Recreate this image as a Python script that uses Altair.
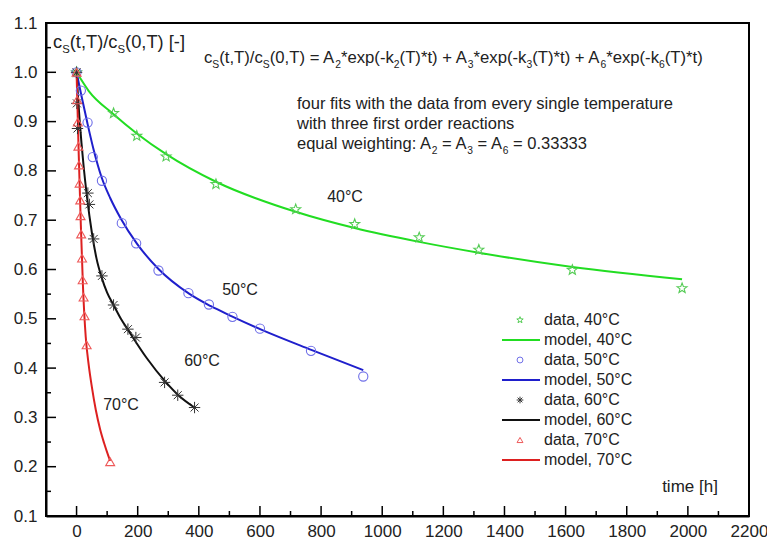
import math
import altair as alt
import pandas as pd

FONT = "Liberation Sans"

# ---- measured data: time [h] vs. normalized concentration c_S(t,T)/c_S(0,T)
t40 = [0, 121, 197, 293, 456, 717, 910, 1121, 1316, 1622, 1981]
c40 = [1.0, 0.917, 0.871, 0.829, 0.773, 0.722, 0.692, 0.665, 0.640, 0.599, 0.562]

t50 = [0, 14, 36, 53, 83, 148, 195, 268, 366, 433, 510, 600, 767, 938]
c50 = [1.0, 0.963, 0.898, 0.828, 0.780, 0.694, 0.653, 0.598, 0.552, 0.529, 0.504, 0.480, 0.435, 0.383]

t60 = [0, 1, 3, 37, 42, 56, 83, 121, 168, 194, 288, 331, 386]
c60 = [1.0, 0.937, 0.886, 0.755, 0.732, 0.662, 0.587, 0.528, 0.479, 0.462, 0.371, 0.345, 0.320]

t70 = [0, 2, 4, 6, 8, 10, 12, 13, 15, 18, 20, 23, 26, 33, 110]
c70 = [1.0, 0.944, 0.899, 0.85, 0.812, 0.775, 0.741, 0.709, 0.672, 0.623, 0.579, 0.544, 0.506, 0.447, 0.21]

# ---- fitted model curves (three first-order reactions)
mt40 = [0, 40, 121, 197, 293, 456, 717, 910, 1121, 1316, 1622, 1981]
mc40 = [1.0, 0.962, 0.915, 0.876, 0.834, 0.778, 0.717, 0.684, 0.656, 0.634, 0.605, 0.580]

mt50 = [0, 15, 35, 55, 83, 110, 145, 198, 268, 368, 438, 508, 608, 768, 938]
mc50 = [1.0, 0.955, 0.898, 0.845, 0.785, 0.745, 0.703, 0.652, 0.601, 0.551, 0.526, 0.505, 0.477, 0.437, 0.396]

mt60 = [0, 5, 10, 16, 23, 34, 50, 65, 83, 100, 121, 145, 170, 230, 290, 333, 386]
mc60 = [1.0, 0.948, 0.903, 0.857, 0.81, 0.748, 0.675, 0.623, 0.582, 0.553, 0.528, 0.50, 0.476, 0.42, 0.373, 0.345, 0.32]

mt70 = [0, 7, 14, 21, 30, 40, 50, 63, 77, 90, 104, 110]
mc70 = [1.0, 0.835, 0.69, 0.565, 0.463, 0.405, 0.362, 0.315, 0.276, 0.248, 0.222, 0.212]

# ---- axis ticks
x_major = [0, 200, 400, 600, 800, 1000, 1200, 1400, 1600, 1800, 2000, 2200]
x_minor = [100, 300, 500, 700, 900, 1100, 1300, 1500, 1700, 1900, 2100]
y_major = [0.1, 0.2, 0.3, 0.4, 0.5, 0.6, 0.7, 0.8, 0.9, 1.0, 1.1]
y_minor = [0.15, 0.25, 0.35, 0.45, 0.55, 0.65, 0.75, 0.85, 0.95, 1.05]

legend_labels = ["data, 40°C", "model, 40°C", "data, 50°C", "model, 50°C",
                 "data, 60°C", "model, 60°C", "data, 70°C", "model, 70°C"]

W, H = 703, 493
XS = alt.Scale(domain=[-100, 2200], nice=False, zero=False)
YS = alt.Scale(domain=[0.1, 1.1], nice=False, zero=False)


def star_path(inner=0.42):
    pts = []
    for k in range(10):
        r = 1.0 if k % 2 == 0 else inner
        a = math.radians(-90 + 36 * k)
        pts.append(f"{r * math.cos(a):.3f},{r * math.sin(a):.3f}")
    return "M" + "L".join(pts) + "Z"


STAR = star_path()
ASTERISK = "M-1,0L1,0M0,-1L0,1M-0.7,-0.7L0.7,0.7M-0.7,0.7L0.7,-0.7"

GREEN_L, GREEN_P = "#22dd22", "#55cc55"
BLUE_L, BLUE_P = "#1f1fcc", "#6f6fe8"
BLACK_L, BLACK_P = "#111111", "#333333"
RED_L, RED_P = "#dd2020", "#ee5a5a"

one = pd.DataFrame({"k": [0]})


def line(ts, cs, color):
    df = pd.DataFrame({"t": ts, "c": cs})
    return alt.Chart(df).mark_line(color=color, strokeWidth=2, interpolate="monotone").encode(
        x=alt.X("t:Q", scale=XS), y=alt.Y("c:Q", scale=YS))


def points(ts, cs, shape, color, size, sw=1.1):
    df = pd.DataFrame({"t": ts, "c": cs})
    return alt.Chart(df).mark_point(shape=shape, color=color, size=size, filled=False,
                                    strokeWidth=sw, opacity=1).encode(
        x=alt.X("t:Q", scale=XS), y=alt.Y("c:Q", scale=YS))


# Arial / Liberation Sans advance widths (per 1000 em)
ADV = {" ": 278, "(": 333, ")": 333, "*": 389, "+": 584, ",": 278, "-": 333, ".": 278,
       "/": 278, ":": 278, "=": 584, "[": 278, "]": 278, "°": 400,
       "A": 667, "C": 722, "S": 667, "T": 611,
       "a": 556, "c": 500, "d": 556, "e": 556, "f": 278, "g": 556, "h": 556, "i": 222,
       "k": 500, "l": 222, "m": 833, "n": 556, "o": 556, "p": 556, "q": 556, "r": 333,
       "s": 500, "t": 278, "u": 556, "v": 500, "w": 722, "x": 500, "y": 500}


def text_width(s, size):
    return sum(ADV.get(ch, 556) for ch in s) * size / 1000.0


def rich_text(segments, x, y, size, color="#222222", sub_scale=0.62):
    """Place a run of text pieces; pieces flagged True are set as subscripts."""
    layers = []
    for s, sub in segments:
        fs = size * sub_scale if sub else size
        yy = y + (size * 0.28 if sub else 0)
        lead = len(s) - len(s.lstrip(" "))
        body = s.strip(" ")
        trail = len(s) - lead - len(body)
        x += text_width(" " * lead, fs)
        layers.append(alt.Chart(one).mark_text(text=body, align="left", baseline="alphabetic",
                                               font=FONT, fontSize=fs, color=color).encode(
            x=alt.value(x), y=alt.value(yy)))
        x += text_width(body, fs) + text_width(" " * trail, fs)
    return layers


def label(s, x, y, size=16, align="center"):
    return alt.Chart(one).mark_text(text=s, align=align, baseline="middle", font=FONT,
                                    fontSize=size, color="#222222").encode(
        x=alt.value(x), y=alt.value(y))


# inward tick marks
def xticks(vals, length):
    return alt.Chart(pd.DataFrame({"t": vals})).mark_rule(color="black", strokeWidth=1.5).encode(
        x=alt.X("t:Q", scale=XS), y=alt.value(H), y2=alt.value(H - length))


def yticks(vals, length):
    return alt.Chart(pd.DataFrame({"c": vals})).mark_rule(color="black", strokeWidth=1.5).encode(
        y=alt.Y("c:Q", scale=YS), x=alt.value(0), x2=alt.value(length))


axes = alt.Chart(pd.DataFrame({"t": [0], "c": [1.0]})).mark_point(opacity=0).encode(
    x=alt.X("t:Q", scale=XS, title=None,
            axis=alt.Axis(values=x_major, format="d", tickSize=0, grid=False, labelFont=FONT,
                          labelFontSize=17, labelColor="#222222", labelPadding=7,
                          labelFlush=False, labelOverlap=False,
                          domainColor="black", domainWidth=2)),
    y=alt.Y("c:Q", scale=YS, title=None,
            axis=alt.Axis(values=y_major, format=".1f", tickSize=0, grid=False, labelFont=FONT,
                          labelFontSize=17, labelColor="#222222", labelPadding=9,
                          labelFlush=False, labelOverlap=False,
                          domainColor="black", domainWidth=2)),
)

layers = [axes,
          xticks(x_major, 10), xticks(x_minor, 5), yticks(y_major, 10), yticks(y_minor, 5),
          line(mt40, mc40, GREEN_L), line(mt50, mc50, BLUE_L),
          line(mt60, mc60, BLACK_L), line(mt70, mc70, RED_L),
          points(t40, c40, STAR, GREEN_P, 110),
          points(t50, c50, "circle", BLUE_P, 85),
          points(t60, c60, ASTERISK, BLACK_P, 130, 1.0),
          points(t70, c70, "triangle-up", RED_P, 80)]

# y-axis quantity written inside the frame
layers += rich_text([("c", False), ("S", True), ("(t,T)/c", False), ("S", True), ("(0,T) [-]", False)],
                    7, 25, 18.3)

# model equation
eq = [("c", False), ("S", True), ("(t,T)/c", False), ("S", True), ("(0,T) = A", False), ("2", True),
      ("*exp(-k", False), ("2", True), ("(T)*t) + A", False), ("3", True), ("*exp(-k", False), ("3", True),
      ("(T)*t) + A", False), ("6", True), ("*exp(-k", False), ("6", True), ("(T)*t)", False)]
layers += rich_text(eq, 158, 40, 16.7)

layers += rich_text([("four fits with the data from every single temperature", False)], 251, 86, 16.5)
layers += rich_text([("with three first order reactions", False)], 251, 106, 16.5)
layers += rich_text([("equal weighting: A", False), ("2", True), (" = A", False), ("3", True),
                     (" = A", False), ("6", True), (" = 0.33333", False)], 251, 126, 16.5)

layers += [label("40°C", 299, 174), label("50°C", 194, 267),
           label("60°C", 156, 338), label("70°C", 75, 382),
           label("time [h]", 644, 464, 17)]

# legend block
leg_y0, leg_dy = 297, 20
sym_x, line_x0, line_x1, text_x = 474, 456, 494, 498
sym_styles = [(STAR, GREEN_P, 45), ("circle", BLUE_P, 35), (ASTERISK, BLACK_P, 45), ("triangle-up", RED_P, 35)]
line_cols = [GREEN_L, BLUE_L, BLACK_L, RED_L]
for i, lab in enumerate(legend_labels):
    y = leg_y0 + i * leg_dy
    k = i // 2
    if i % 2 == 0:
        shp, col, sz = sym_styles[k]
        layers.append(alt.Chart(one).mark_point(shape=shp, color=col, size=sz, filled=False,
                                                strokeWidth=1, opacity=1).encode(
            x=alt.value(sym_x), y=alt.value(y)))
    else:
        layers.append(alt.Chart(one).mark_rule(color=line_cols[k], strokeWidth=2).encode(
            x=alt.value(line_x0), x2=alt.value(line_x1), y=alt.value(y)))
    layers.append(label(lab, text_x, y, 16, "left"))

chart = alt.layer(*layers).properties(
    width=W, height=H,
    background="white",
    autosize=alt.AutoSizeParams(type="none"),
    padding={"left": 46, "top": 23, "right": 18, "bottom": 27},
).configure_view(stroke="black", strokeWidth=2)

chart.save("out.html", embed_options={"renderer": "svg", "actions": False})
